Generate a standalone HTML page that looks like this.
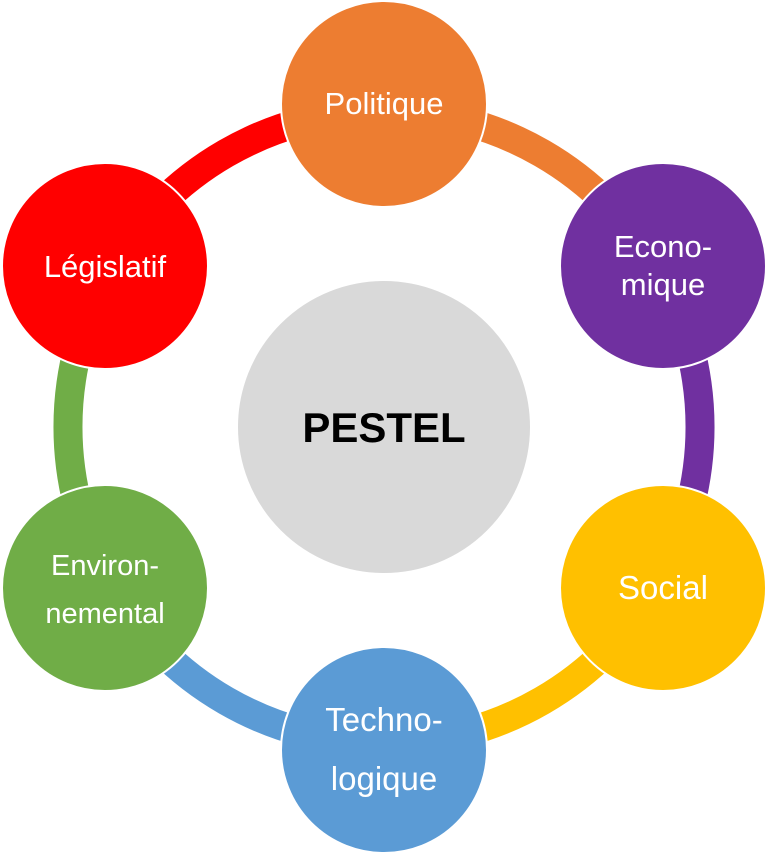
<!DOCTYPE html>
<html><head><meta charset="utf-8"><style>body{margin:0;background:#fff}svg{display:block}</style></head>
<body>
<svg width="768" height="855" viewBox="0 0 768 855" xmlns="http://www.w3.org/2000/svg" font-family="'Liberation Sans', sans-serif">
<g fill="none" stroke-width="29">
<path d="M384 111 A316 316 0 0 1 657.7 269" stroke="#ED7D31"/>
<path d="M657.7 269 A316 316 0 0 1 657.7 585" stroke="#7030A0"/>
<path d="M657.7 585 A316 316 0 0 1 384 743" stroke="#FFC000"/>
<path d="M384 743 A316 316 0 0 1 110.3 585" stroke="#5B9BD5"/>
<path d="M110.3 585 A316 316 0 0 1 110.3 269" stroke="#70AD47"/>
<path d="M110.3 269 A316 316 0 0 1 384 111" stroke="#FF0000"/>
</g>
<g stroke="#fff" stroke-width="2">
<circle cx="384" cy="427" r="147" fill="#D9D9D9"/>
<circle cx="384" cy="104" r="103" fill="#ED7D31"/>
<circle cx="663" cy="266" r="103" fill="#7030A0"/>
<circle cx="663" cy="588" r="103" fill="#FFC000"/>
<circle cx="384" cy="750" r="103" fill="#5B9BD5"/>
<circle cx="105" cy="588" r="103" fill="#70AD47"/>
<circle cx="105" cy="266" r="103" fill="#FF0000"/>
</g>
<text x="384" y="442" text-anchor="middle" font-size="42" font-weight="bold" fill="#000">PESTEL</text>
<g fill="#fff" text-anchor="middle" font-size="31">
<text x="384" y="114">Politique</text>
<text x="663" y="257">Econo-</text><text x="663" y="295">mique</text>
<text x="663" y="599" font-size="33">Social</text>
<text x="384" y="731" font-size="33">Techno-</text><text x="384" y="790" font-size="33">logique</text>
<text x="105" y="575" font-size="29">Environ-</text><text x="105" y="623" font-size="29">nemental</text>
<text x="105" y="277">Législatif</text>
</g>
</svg>
</body></html>
